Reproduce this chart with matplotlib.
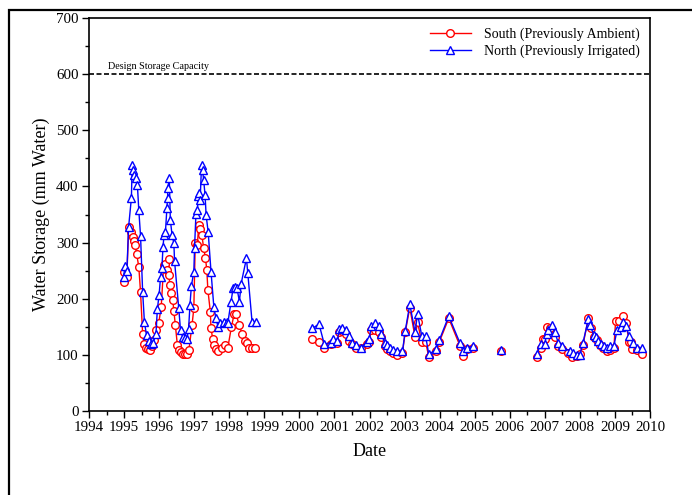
import numpy as np
import matplotlib
matplotlib.use("Agg")
import matplotlib.pyplot as plt
from matplotlib.patches import Rectangle
from matplotlib.ticker import MultipleLocator

plt.rcParams['font.family'] = ['Liberation Serif', 'DejaVu Serif']

nan = np.nan

# North (Previously Irrigated)
north_date = [1994.99, 1995.02, 1995.08, 1995.13, 1995.21, 1995.23, 1995.25, 1995.28, 1995.34, 1995.38,
              1995.42, 1995.47, 1995.53, 1995.58, 1995.64, 1995.70, 1995.77, 1995.83, 1995.91, 1995.95,
              1996.00, 1996.04, 1996.08, 1996.11, 1996.14, 1996.18, 1996.22, 1996.24, 1996.25, 1996.29,
              1996.32, 1996.37, 1996.42, 1996.44, 1996.56, 1996.61, 1996.67, 1996.73, 1996.79, 1996.84,
              1996.88, 1996.92, 1996.99, 1997.01, 1997.05, 1997.09, 1997.12, 1997.15, 1997.17, 1997.21,
              1997.24, 1997.27, 1997.31, 1997.34, 1997.40, 1997.48, 1997.56, 1997.62, 1997.68, 1997.75,
              1997.84, 1997.93, 1997.96, 1998.05, 1998.11, 1998.17, 1998.22, 1998.29, 1998.34, 1998.49,
              1998.53, 1998.65, 1998.76,
              1999.5,
              2000.37, 2000.56, 2000.71, 2000.90, 2000.97, 2001.08, 2001.14, 2001.21, 2001.33, 2001.42,
              2001.51, 2001.61, 2001.76, 2001.92, 2001.99, 2002.05, 2002.17, 2002.26, 2002.33, 2002.43,
              2002.49, 2002.58, 2002.68, 2002.79, 2002.94, 2003.02, 2003.15, 2003.30, 2003.37, 2003.49,
              2003.60, 2003.69, 2003.91, 2003.99, 2004.26, 2004.58, 2004.67, 2004.77, 2004.96,
              2005.4,
              2005.75,
              2006.3,
              2006.77, 2006.89, 2007.00, 2007.05, 2007.10, 2007.21, 2007.29, 2007.38, 2007.48, 2007.71,
              2007.81, 2007.91, 2008.00, 2008.09, 2008.24, 2008.29, 2008.40, 2008.46, 2008.52, 2008.60,
              2008.68, 2008.76, 2008.86, 2008.97, 2009.06, 2009.16, 2009.24, 2009.31, 2009.40, 2009.52,
              2009.64, 2009.76]
north_val = [239, 258, 249, 328, 380, 438, 429, 420, 415, 403,
             358, 312, 212, 159, 135, 125, 119, 121, 137, 182,
             207, 239, 255, 292, 313, 319, 361, 379, 397, 415,
             340, 313, 299, 267, 183, 144, 132, 130, 128, 146,
             189, 223, 248, 290, 351, 358, 383, 388, 376, 439,
             429, 411, 385, 349, 318, 248, 186, 165, 150, 156,
             159, 159, 157, 195, 219, 220, 219, 195, 227, 272,
             245, 159, 159,
             nan,
             147, 155, 119, 122, 128, 125, 146, 147, 145, 134,
             122, 118, 113, 123, 128, 151, 156, 152, 138, 122,
             118, 112, 109, 106, 106, 143, 190, 140, 173, 134,
             134, 101, 110, 126, 169, 121, 106, 113, 115,
             nan,
             109,
             nan,
             102, 119, 119, 138, 144, 153, 140, 122, 115, 107,
             103, 100, 100, 122, 163, 153, 135, 131, 125, 120,
             116, 113, 115, 116, 144, 149, 158, 152, 134, 122,
             113, 112]

# South (Previously Ambient)
south_date = [1994.99, 1994.99, 1995.08, 1995.13, 1995.21, 1995.25, 1995.28, 1995.32, 1995.36, 1995.42,
              1995.47, 1995.53, 1995.57, 1995.63, 1995.68, 1995.74, 1995.80, 1995.86, 1995.92, 1995.99,
              1996.06, 1996.13, 1996.18, 1996.23, 1996.27, 1996.29, 1996.30, 1996.35, 1996.39, 1996.42,
              1996.46, 1996.52, 1996.56, 1996.61, 1996.67, 1996.73, 1996.79, 1996.85, 1996.94, 1996.99,
              1997.03, 1997.09, 1997.13, 1997.17, 1997.22, 1997.27, 1997.32, 1997.36, 1997.39, 1997.46,
              1997.48, 1997.53, 1997.57, 1997.62, 1997.68, 1997.79, 1997.89, 1997.96, 1998.06, 1998.14,
              1998.19, 1998.29, 1998.36, 1998.44, 1998.50, 1998.55, 1998.65, 1998.74,
              1999.5,
              2000.37, 2000.56, 2000.71, 2000.90, 2000.97, 2001.08, 2001.14, 2001.21, 2001.33, 2001.42,
              2001.51, 2001.61, 2001.76, 2001.92, 2001.99, 2002.05, 2002.17, 2002.26, 2002.33, 2002.43,
              2002.49, 2002.58, 2002.68, 2002.79, 2002.94, 2003.02, 2003.15, 2003.30, 2003.37, 2003.49,
              2003.60, 2003.69, 2003.91, 2003.99, 2004.26, 2004.58, 2004.67, 2004.77, 2004.96,
              2005.4,
              2005.75,
              2006.3,
              2006.77, 2006.89, 2006.95, 2007.00, 2007.05, 2007.14, 2007.29, 2007.38, 2007.48, 2007.67,
              2007.78, 2007.91, 2008.00, 2008.09, 2008.24, 2008.31, 2008.40, 2008.48, 2008.57, 2008.66,
              2008.76, 2008.86, 2008.97, 2009.02, 2009.11, 2009.22, 2009.31, 2009.41, 2009.47, 2009.50,
              2009.64, 2009.76]
south_val = [229, 248, 239, 327, 318, 310, 303, 296, 279, 257,
             212, 137, 119, 113, 110, 109, 115, 126, 144, 157,
             186, 260, 261, 251, 271, 242, 224, 211, 197, 179,
             154, 118, 109, 105, 102, 101, 102, 109, 154, 183,
             299, 296, 331, 325, 313, 290, 273, 251, 216, 177,
             147, 128, 118, 110, 107, 112, 118, 113, 149, 173,
             172, 153, 138, 125, 121, 113, 113, 112,
             nan,
             128, 123, 112, 119, 122, 122, 141, 142, 138, 125,
             119, 113, 112, 119, 123, 145, 144, 141, 131, 116,
             110, 106, 103, 100, 104, 141, 184, 131, 158, 123,
             123, 97, 106, 123, 165, 116, 98, 110, 113,
             nan,
             106,
             nan,
             97, 112, 129, 129, 150, 147, 131, 116, 110, 103,
             97, 98, 102, 118, 165, 147, 132, 126, 118, 112,
             107, 109, 112, 161, 161, 170, 157, 123, 123, 110,
             109, 101]

year_ticks = list(range(1994, 2011))
design_capacity = 600

fig = plt.figure(figsize=(6.92, 4.95), dpi=100)
ax = fig.add_axes([89/692, 1 - 411/495, (650 - 89)/692, (411 - 18)/495])

ax.plot(south_date, south_val, color='red', lw=1.0, marker='o', ms=5.5,
        mfc='white', mec='red', mew=1.0, label='South (Previously Ambient)')
ax.plot(north_date, north_val, color='blue', lw=1.0, marker='^', ms=5.5,
        mfc='white', mec='blue', mew=1.0, label='North (Previously Irrigated)')

ax.axhline(design_capacity, color='black', lw=1.2, ls=(0, (3, 1.5)))
ax.text(1994.53, design_capacity + 6, 'Design Storage Capacity', fontsize=7.3,
        va='bottom', ha='left')

ax.set_xlim(1994, 2010)
ax.set_ylim(0, 700)
ax.set_xticks(year_ticks)
ax.set_xticklabels([str(y) for y in year_ticks])
ax.xaxis.set_minor_locator(MultipleLocator(0.5))
ax.yaxis.set_major_locator(MultipleLocator(100))
ax.yaxis.set_minor_locator(MultipleLocator(50))
ax.tick_params(axis='both', which='major', direction='out', length=5, width=1,
               labelsize=10.8, top=False, right=False, pad=2)
ax.tick_params(axis='y', which='major', pad=2.5)
ax.tick_params(axis='both', which='minor', direction='out', length=3, width=1,
               top=False, right=False)
for s in ax.spines.values():
    s.set_linewidth(1.2)

ax.set_xlabel('Date', fontsize=13, labelpad=7)
ax.set_ylabel('Water Storage (mm Water)', fontsize=13, labelpad=4)

leg = ax.legend(loc='upper right', frameon=False, fontsize=10, handlelength=2.9,
                handletextpad=1.0, labelspacing=0.25, borderaxespad=0.3)

fig.add_artist(Rectangle((9/692, -0.5), 1.5, 0.5 + (1 - 10/495), fill=False,
                         edgecolor='black', lw=1.6, transform=fig.transFigure,
                         clip_on=False))

fig.savefig('out.png', dpi=100)
